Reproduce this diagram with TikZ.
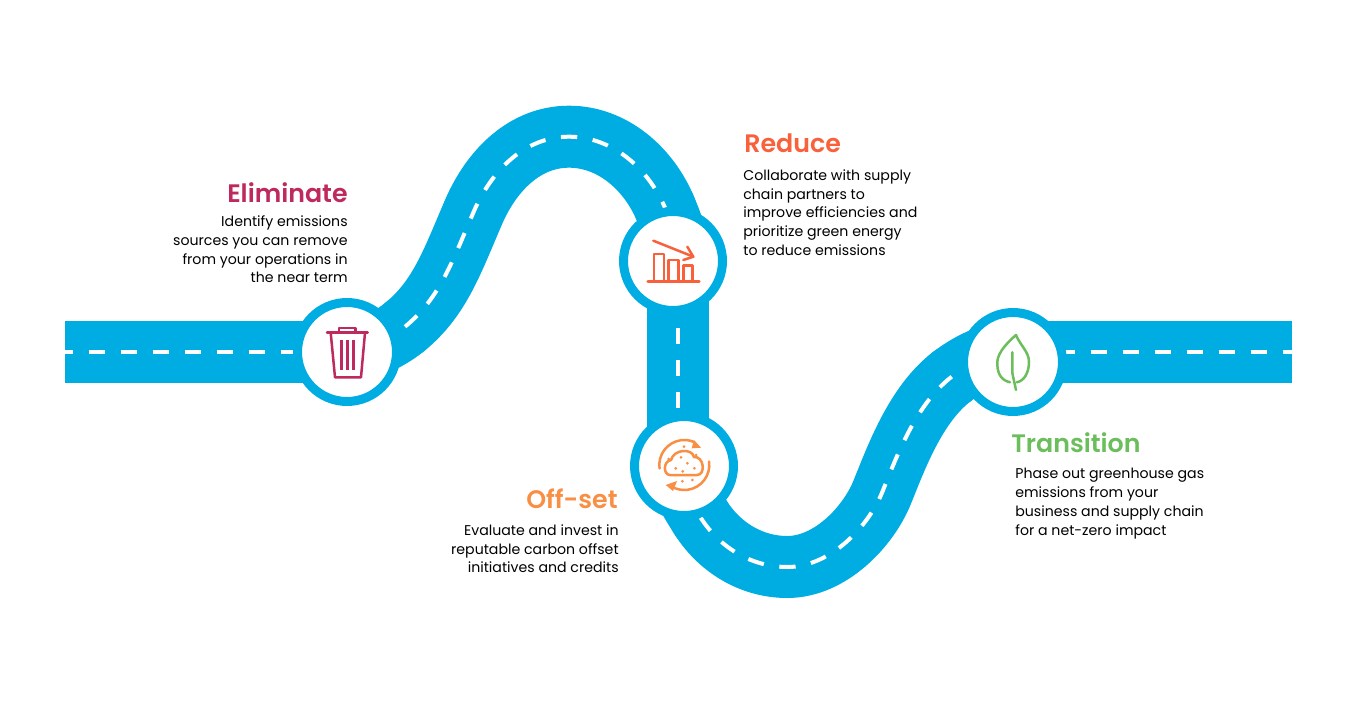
\documentclass[tikz,border=0pt]{standalone}
\usepackage{fontspec}
\setmainfont{Poppins}
\newfontfamily\headfont{Poppins SemiBold}
\definecolor{roadblue}{HTML}{00ADE3}
\definecolor{elimcol}{HTML}{BE2A5E}
\definecolor{redcol}{HTML}{F9603C}
\definecolor{offcol}{HTML}{F98F45}
\definecolor{transcol}{HTML}{6CBE5C}
\tikzset{
	stopring/.style={circle, draw=roadblue, fill=white, line width=0.18cm, minimum size=1.98cm, inner sep=0},
	roadflat/.style={draw=roadblue, line width=1.24cm},
	roadbend/.style={draw=roadblue, line width=1.24cm, line cap=round},
	roaddash/.style={draw=white, line width=0.08cm, dash pattern=on 0.326cm off 0.314cm},
	headtext/.style={inner sep=0, font=\fontsize{14.4}{18}\headfont},
	bodytext/.style={inner sep=0, text=black, font=\fontsize{8.05}{10.77}\selectfont},
	iconline/.style={line width=0.05cm, line join=round, line cap=round},
}

\begin{document}
\begin{tikzpicture}[x=0.02cm, y=-0.02cm]
		%%%%% START %%%%%
		\useasboundingbox (0, 0) rectangle (1355, 703);
		
		\coordinate (roadstart) at (65, 352);
		\coordinate (roadend) at (1292, 352);
		\coordinate (elimpt) at (347, 352);
		\coordinate (redpt) at (678, 262);
		\coordinate (offpt) at (678, 467);
		\coordinate (transpt) at (1013, 352);
		
		% the two bends
		\path[save path=\bendone] (405, 326.7) .. controls (440, 298) and (452, 262) .. (474, 211)
			.. controls (492, 170) and (525, 136.7) .. (569, 136.7)
			.. controls (612, 136.7) and (648, 168) .. (665, 207.7);
		\path[save path=\bendtwo] (700.7, 517.7) .. controls (720, 548) and (752, 567) .. (787.3, 567)
			.. controls (830, 567) and (868, 527) .. (882, 492.7)
			.. controls (896, 458.4) and (915, 405) .. (951.7, 376.7);
		
		% road first, the stops sit on it
		\draw[roadflat] (roadstart) -- (elimpt);
		\draw[roadbend] (elimpt) .. controls (370, 349) and (390, 339) .. (405, 326.7);
		\draw[roadbend, use path=\bendone];
		\draw[roadbend] (665, 207.7) .. controls (672, 224) and (678, 240) .. (redpt);
		\draw[roadflat] (redpt) -- (offpt);
		\draw[roadbend] (offpt) .. controls (681, 487) and (691, 502.4) .. (700.7, 517.7);
		\draw[roadbend, use path=\bendtwo];
		\draw[roadbend] (951.7, 376.7) .. controls (967, 365) and (990, 352) .. (transpt);
		\draw[roadflat] (transpt) -- (roadend);
		
		\draw[roaddash, dash phase=0.166cm] (roadstart) -- (elimpt);
		\draw[roaddash, use path=\bendone];
		\draw[roaddash] (678, 328) -- (678, 408);
		\draw[roaddash, use path=\bendtwo];
		\draw[roaddash] (1058.7, 352) -- (roadend);
		
		\node[stopring] (eliminate) at (elimpt) {};
		\node[stopring] (reduce) at (673, 261) {};
		\node[stopring] (offset) at (684, 466) {};
		\node[stopring] (transition) at (1013, 362) {};
		
		%%%%% TEXT %%%%%
		\node[headtext, text=elimcol, anchor=north east] (eliminatehead) at (348, 182.5) {Eliminate};
		\node[bodytext, anchor=north east, align=right] (eliminatebody) at (348, 215) {Identify emissions\\sources you can remove\\from your operations in\\the near term};
		
		\node[headtext, text=redcol, anchor=north west] (reducehead) at (744, 133.5) {Reduce};
		\node[bodytext, anchor=north west, align=left] (reducebody) at (743, 169) {Collaborate with supply\\chain partners to\\improve efficiencies and\\prioritize green energy\\to reduce emissions};
		
		\node[headtext, text=offcol, anchor=north east] (offsethead) at (618, 488.5) {Off-set};
		\node[bodytext, anchor=north east, align=right] (offsetbody) at (619, 524) {Evaluate and invest in\\reputable carbon offset\\initiatives and credits};
		
		\node[headtext, text=transcol, anchor=north west] (transitionhead) at (1011, 432.5) {Transition};
		\node[bodytext, anchor=north west, align=left] (transitionbody) at (1015, 468) {Phase out greenhouse gas\\emissions from your\\business and supply chain\\for a net-zero impact};
		
		%%%%% ICONS %%%%%
		% bin
		\draw[iconline, elimcol] (327, 332.7) -- (367.7, 332.7);
		\draw[iconline, elimcol] (339, 332.7) -- (339, 328) -- (355.7, 328) -- (355.7, 332.7);
		\draw[iconline, elimcol] (330.7, 332.7) -- (335, 377.3) -- (361, 377.3) -- (365, 332.7);
		\foreach \barx in {341.7, 347.3, 353.3}
			\draw[line width=0.05cm, elimcol] (\barx, 340) -- (\barx, 370);
		
		% falling bars
		\draw[iconline, redcol] (653.3, 240.7) -- (693.3, 256.7);
		\draw[iconline, redcol] (687.3, 246.7) -- (693.3, 256.7) -- (683.3, 260);
		\draw[iconline, redcol] (647.7, 281.7) -- (699.3, 281.7);
		\draw[iconline, redcol] (654, 281.7) -- (654, 254) -- (664, 254) -- (664, 281.7);
		\draw[iconline, redcol] (668.7, 281.7) -- (668.7, 260) -- (678.7, 260) -- (678.7, 281.7);
		\draw[iconline, redcol] (683.3, 281.7) -- (683.3, 265.7) -- (692.7, 265.7) -- (692.7, 281.7);
		
		% cloud and arrows
		\draw[iconline, offcol] (670, 475) .. controls (663, 475) and (663, 461) .. (671, 460)
			.. controls (674, 449) and (692, 448) .. (694, 457)
			.. controls (704, 456) and (706, 475) .. (697, 475) -- cycle;
		\draw[iconline, offcol] (684.3, 465) ++(172:25) arc (172:292:25);
		\draw[iconline, offcol] (684.3, 465) ++(-8:25) arc (-8:118:25);
		\fill[offcol] (694, 440) -- (701, 447.7) -- (691.7, 448.3) -- cycle;
		\fill[offcol] (665.7, 485) -- (677, 481) -- (673, 491) -- cycle;
		\foreach \dotx/\doty in {684/446.7, 668.7/459, 696/455, 681/457.3, 687.3/463.3, 675.7/468.3, 682.7/471.3, 694.3/468.3, 682.3/481.3, 692.3/480}
			\fill[offcol] (\dotx, \doty) circle (1.5);
		
		% leaf
		\draw[iconline, transcol] (1010, 382.3) .. controls (1000, 380) and (997, 372) .. (997.3, 361.7)
			.. controls (998, 352) and (1008, 342) .. (1016, 335)
			.. controls (1020, 345) and (1029, 352) .. (1029, 361.7)
			.. controls (1029, 373) and (1024, 381) .. (1016.7, 382.3);
		\draw[iconline, transcol] (1012.3, 352.3) -- (1012.3, 373) -- (1016, 390);
		
		%%%%% END %%%%%
	\end{tikzpicture}
\end{document}
